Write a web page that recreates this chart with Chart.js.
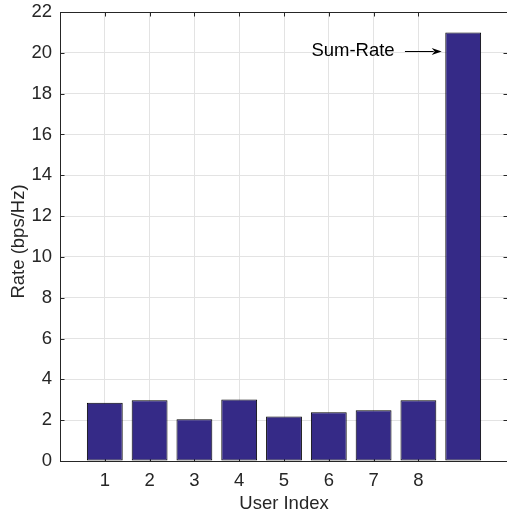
<!DOCTYPE html>
<html>
<head>
<meta charset="utf-8">
<script src="https://cdn.jsdelivr.net/npm/chart.js@4/dist/chart.umd.min.js"></script>
<style>
  html, body { margin: 0; padding: 0; background: #fff; overflow: hidden; }
  #wrap { width: 510px; height: 510px; }
</style>
</head>
<body>
<div id="wrap"><canvas id="rateChart"></canvas></div>
<script>
// Données
const barPositions = [1, 2, 3, 4, 5, 6, 7, 8, 9];
const userRates = [2.86, 2.98, 2.05, 3.01, 2.18, 2.39, 2.49, 2.98];
const sumRate = 21.0;
const xTickValues = [1, 2, 3, 4, 5, 6, 7, 8];
const xTickLabels = ['1', '2', '3', '4', '5', '6', '7', '8'];
const yTickValues = [0, 2, 4, 6, 8, 10, 12, 14, 16, 18, 20, 22];
const yTitle = 'Rate (bps/Hz)';

// Annotation "Sum-Rate" (en unités de données)
const annotText = 'Sum-Rate';
const annotTextX = 7.47;
const annotArrowX = [7.7, 8.52];
const annotY = 20.1;

const FONT = '"Liberation Sans", Arial, Helvetica, sans-serif';
const FONT_SIZE = 18.5;
const AXIS_COLOR = '#262626';

const rates = userRates.concat([sumRate]);

// Cadre, graduations vers l'intérieur (style MATLAB), titre Y et annotation
const boxPlugin = {
    id: 'box',
    beforeDatasetsDraw(chart) {
        const { ctx, chartArea: a, scales } = chart;
        const len = 4.5;
        ctx.save();
        ctx.strokeStyle = AXIS_COLOR;
        ctx.lineWidth = 1;
        ctx.beginPath();
        ctx.moveTo(a.left, a.top + 0.5);
        ctx.lineTo(a.right, a.top + 0.5);
        ctx.moveTo(a.right - 0.5, a.top);
        ctx.lineTo(a.right - 0.5, a.bottom);
        yTickValues.forEach(v => {
            const y = Math.round(scales.y.getPixelForValue(v)) + 0.5;
            ctx.moveTo(a.left, y);
            ctx.lineTo(a.left + len, y);
            ctx.moveTo(a.right, y);
            ctx.lineTo(a.right - len, y);
        });
        xTickValues.forEach(v => {
            const x = Math.round(scales.x.getPixelForValue(v)) + 0.5;
            ctx.moveTo(x, a.top);
            ctx.lineTo(x, a.top + len);
            ctx.moveTo(x, a.bottom);
            ctx.lineTo(x, a.bottom - len);
        });
        ctx.stroke();

        // Titre de l'axe Y
        ctx.translate(18.5, (a.top + a.bottom) / 2 + 5);
        ctx.rotate(-Math.PI / 2);
        ctx.fillStyle = AXIS_COLOR;
        ctx.font = FONT_SIZE + 'px ' + FONT;
        ctx.textAlign = 'center';
        ctx.textBaseline = 'middle';
        ctx.fillText(yTitle, 0, 0);
        ctx.restore();
    },
    afterDatasetsDraw(chart) {
        const { ctx, scales } = chart;
        const y = Math.round(scales.y.getPixelForValue(annotY)) + 0.5;
        const x0 = scales.x.getPixelForValue(annotArrowX[0]);
        const x1 = scales.x.getPixelForValue(annotArrowX[1]);
        ctx.save();
        ctx.fillStyle = '#000';
        ctx.font = FONT_SIZE + 'px ' + FONT;
        ctx.textAlign = 'right';
        ctx.textBaseline = 'middle';
        ctx.fillText(annotText, scales.x.getPixelForValue(annotTextX), y - 1);
        // Flèche
        ctx.strokeStyle = '#000';
        ctx.lineWidth = 1;
        ctx.beginPath();
        ctx.moveTo(x0, y);
        ctx.lineTo(x1 - 8, y);
        ctx.stroke();
        ctx.beginPath();
        ctx.moveTo(x1, y);
        ctx.lineTo(x1 - 10, y - 3.5);
        ctx.lineTo(x1 - 7, y);
        ctx.lineTo(x1 - 10, y + 3.5);
        ctx.closePath();
        ctx.fill();
        ctx.restore();
    }
};

new Chart(document.getElementById('rateChart'), {
    type: 'bar',
    data: {
        datasets: [{
            label: 'Rate',
            data: barPositions.map((p, i) => ({ x: p, y: rates[i] })),
            backgroundColor: '#352a87',
            borderColor: '#000',
            borderWidth: 1,
            borderSkipped: false,
            categoryPercentage: 1,
            barPercentage: 0.8
        }]
    },
    options: {
        responsive: true,
        maintainAspectRatio: false,
        animation: false,
        layout: { padding: { top: 12, right: 2, left: 0, bottom: 0 } },
        plugins: {
            legend: { display: false },
            tooltip: { enabled: false }
        },
        scales: {
            x: {
                type: 'linear',
                min: 0,
                max: 10,
                offset: false,
                afterBuildTicks: scale => {
                    scale.ticks = xTickValues.map(v => ({ value: v }));
                },
                afterFit: scale => {
                    scale.height = 49;
                    scale.paddingLeft = 0;
                    scale.paddingRight = 0;
                },
                ticks: {
                    callback: v => xTickLabels[xTickValues.indexOf(v)],
                    color: AXIS_COLOR,
                    font: { family: FONT, size: FONT_SIZE },
                    padding: 9,
                    maxRotation: 0,
                    autoSkip: false
                },
                grid: { color: '#e3e3e3', drawTicks: false, offset: false },
                border: { color: AXIS_COLOR, width: 1 },
                title: {
                    display: true,
                    text: 'User Index',
                    color: AXIS_COLOR,
                    font: { family: FONT, size: FONT_SIZE, lineHeight: 1 },
                    padding: { top: 0, bottom: -3 }
                }
            },
            y: {
                min: 0,
                max: 22,
                afterBuildTicks: scale => {
                    scale.ticks = yTickValues.map(v => ({ value: v }));
                },
                afterFit: scale => {
                    scale.width = 60;
                    scale.paddingTop = 0;
                    scale.paddingBottom = 0;
                },
                ticks: {
                    color: AXIS_COLOR,
                    font: { family: FONT, size: FONT_SIZE },
                    padding: 8
                },
                grid: { color: '#e3e3e3', drawTicks: false },
                border: { color: AXIS_COLOR, width: 1 }
            }
        }
    },
    plugins: [boxPlugin]
});
</script>
</body>
</html>
